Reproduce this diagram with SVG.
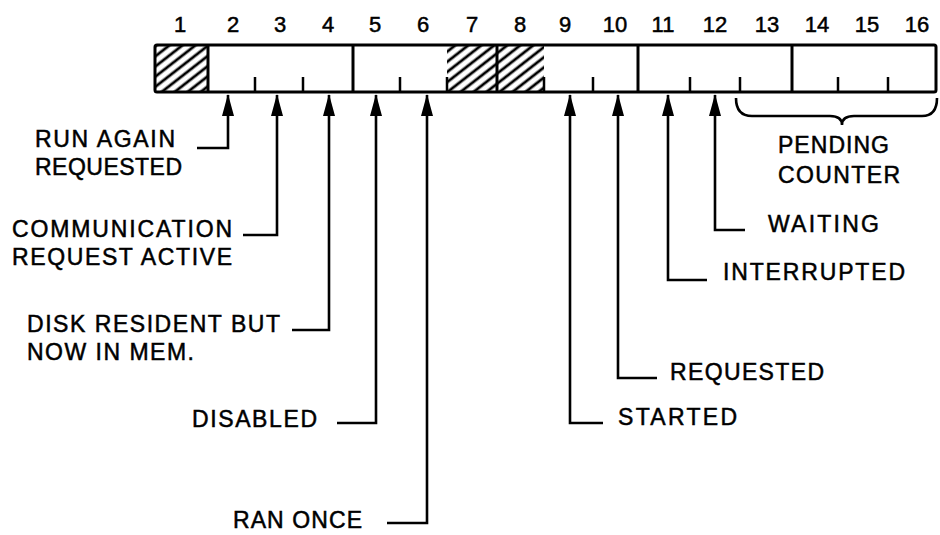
<svg xmlns="http://www.w3.org/2000/svg" width="940" height="535" viewBox="0 0 940 535">
  <style>
    text { font-family: "Liberation Sans", Arial, sans-serif; fill: #000; stroke: #000; stroke-width: 0.5; }
    .num { font-size: 22px; text-anchor: middle; }
    .lbl { font-size: 23px; }
    .thick { stroke: #000; stroke-width: 3; fill: none; }
    .tick { stroke: #000; stroke-width: 2.5; fill: none; }
    .conn { stroke: #000; stroke-width: 2.6; fill: none; }
  </style>
  <defs>
    <pattern id="hatch" patternUnits="userSpaceOnUse" width="8" height="8" patternTransform="rotate(-38)">
      <line x1="0" y1="4" x2="8" y2="4" stroke="#000" stroke-width="2.8"/>
    </pattern>
    <marker id="arrow" markerUnits="userSpaceOnUse" markerWidth="22" markerHeight="12" refX="21" refY="6" orient="auto" viewBox="0 0 22 12">
      <path d="M0,0 L22,6 L0,12 Z" fill="#000"/>
    </marker>
  </defs>
  <rect width="940" height="535" fill="#fff"/>

  <g id="bit-numbers">
    <text class="num" x="180" y="32">1</text>
    <text class="num" x="233" y="32">2</text>
    <text class="num" x="280" y="32">3</text>
    <text class="num" x="328" y="32">4</text>
    <text class="num" x="375" y="32">5</text>
    <text class="num" x="423" y="32">6</text>
    <text class="num" x="472" y="32">7</text>
    <text class="num" x="520" y="32">8</text>
    <text class="num" x="565" y="32">9</text>
    <text class="num" x="615" y="32">10</text>
    <text class="num" x="663" y="32">11</text>
    <text class="num" x="715" y="32">12</text>
    <text class="num" x="767" y="32">13</text>
    <text class="num" x="817" y="32">14</text>
    <text class="num" x="867" y="32">15</text>
    <text class="num" x="917" y="32">16</text>
  </g>

  <g id="register">
    <rect x="156" y="46" width="52" height="45" fill="url(#hatch)"/>
    <rect x="447" y="46" width="50" height="45" fill="url(#hatch)"/>
    <rect x="497" y="46" width="47" height="45" fill="url(#hatch)"/>
    <rect x="155" y="45" width="781" height="47" rx="2" class="thick"/>
    <line x1="208" y1="45" x2="208" y2="92" class="thick"/>
    <line x1="353" y1="45" x2="353" y2="92" class="thick"/>
    <line x1="497" y1="45" x2="497" y2="92" class="thick"/>
    <line x1="638" y1="45" x2="638" y2="92" class="thick"/>
    <line x1="792" y1="45" x2="792" y2="92" class="thick"/>
    <g class="tick">
      <line x1="255" y1="92" x2="255" y2="77"/>
      <line x1="303" y1="92" x2="303" y2="77"/>
      <line x1="400" y1="92" x2="400" y2="77"/>
      <line x1="447" y1="92" x2="447" y2="77"/>
      <line x1="544" y1="92" x2="544" y2="77"/>
      <line x1="593" y1="92" x2="593" y2="77"/>
      <line x1="690" y1="92" x2="690" y2="77"/>
      <line x1="740" y1="92" x2="740" y2="77"/>
      <line x1="838" y1="92" x2="838" y2="77"/>
      <line x1="888" y1="92" x2="888" y2="77"/>
    </g>
  </g>

  <g id="connectors">
    <path class="conn" d="M197,148 H228 V95" marker-end="url(#arrow)"/>
    <path class="conn" d="M243,235 H277 V95" marker-end="url(#arrow)"/>
    <path class="conn" d="M292,330 H329 V95" marker-end="url(#arrow)"/>
    <path class="conn" d="M337,423 H376 V95" marker-end="url(#arrow)"/>
    <path class="conn" d="M387,523 H427 V95" marker-end="url(#arrow)"/>
    <path class="conn" d="M603,423 H570 V95" marker-end="url(#arrow)"/>
    <path class="conn" d="M657,378 H618 V95" marker-end="url(#arrow)"/>
    <path class="conn" d="M707,280 H668 V95" marker-end="url(#arrow)"/>
    <path class="conn" d="M745,230 H715 V95" marker-end="url(#arrow)"/>
    <path class="conn" d="M736,98 Q736,116 752,116 H830 Q842,116 842,125 Q842,116 854,116 H922 Q937,116 937,98"/>
  </g>

  <g id="run-again-requested">
    <text class="lbl" x="35" y="147" textLength="140" lengthAdjust="spacing">RUN AGAIN</text>
    <text class="lbl" x="35" y="175" textLength="147" lengthAdjust="spacing">REQUESTED</text>
  </g>
  <g id="communication-request-active">
    <text class="lbl" x="12" y="237" textLength="220" lengthAdjust="spacing">COMMUNICATION</text>
    <text class="lbl" x="12" y="265" textLength="220" lengthAdjust="spacing">REQUEST ACTIVE</text>
  </g>
  <g id="disk-resident">
    <text class="lbl" x="27" y="332" textLength="253" lengthAdjust="spacing">DISK RESIDENT BUT</text>
    <text class="lbl" x="27" y="360" textLength="167" lengthAdjust="spacing">NOW IN MEM.</text>
  </g>
  <g id="disabled">
    <text class="lbl" x="192" y="427" textLength="125" lengthAdjust="spacing">DISABLED</text>
  </g>
  <g id="ran-once">
    <text class="lbl" x="233" y="528" textLength="129" lengthAdjust="spacing">RAN ONCE</text>
  </g>
  <g id="started">
    <text class="lbl" x="618" y="425" textLength="119" lengthAdjust="spacing">STARTED</text>
  </g>
  <g id="requested">
    <text class="lbl" x="670" y="380" textLength="154" lengthAdjust="spacing">REQUESTED</text>
  </g>
  <g id="interrupted">
    <text class="lbl" x="723" y="280" textLength="182" lengthAdjust="spacing">INTERRUPTED</text>
  </g>
  <g id="waiting">
    <text class="lbl" x="768" y="232" textLength="111" lengthAdjust="spacing">WAITING</text>
  </g>
  <g id="pending-counter">
    <text class="lbl" x="778" y="153" textLength="111" lengthAdjust="spacing">PENDING</text>
    <text class="lbl" x="778" y="183" textLength="122" lengthAdjust="spacing">COUNTER</text>
  </g>
</svg>
